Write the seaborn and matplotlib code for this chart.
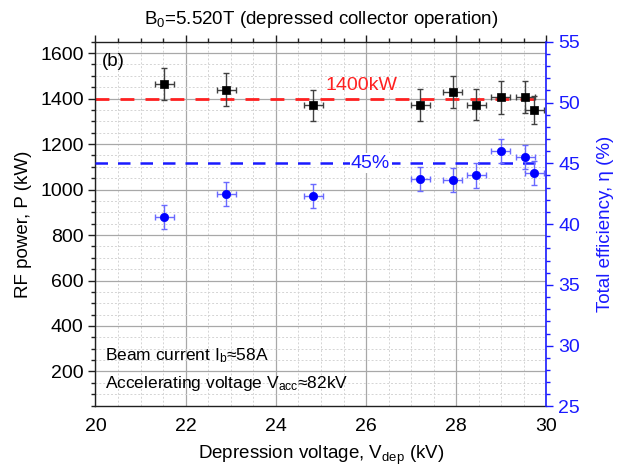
import numpy as np
import pandas as pd
import matplotlib
matplotlib.use("Agg")
import matplotlib.pyplot as plt
from matplotlib.ticker import MultipleLocator
import seaborn as sns

# Data
v_dep = [21.52, 22.90, 24.83, 27.20, 27.92, 28.44, 28.99, 29.53, 29.73]
power = [1464, 1439, 1370, 1373, 1428, 1373, 1406, 1406, 1349]
power_err = [72, 72, 68, 70, 70, 68, 72, 70, 62]
eff = [40.6, 42.5, 42.3, 43.7, 43.6, 44.0, 46.0, 45.5, 44.2]
eff_err = [1.0, 1.0, 1.0, 1.0, 1.0, 1.0, 1.0, 1.0, 1.0]
v_err = [0.21, 0.21, 0.21, 0.21, 0.21, 0.21, 0.21, 0.21, 0.21]
power_ref = 1400
eff_ref = 45

df = pd.DataFrame({"V": v_dep, "P": power, "eta": eff})

sns.set_style("white")
plt.rcParams['font.family'] = ['Liberation Sans', 'DejaVu Sans']
plt.rcParams['mathtext.fontset'] = 'custom'
plt.rcParams['mathtext.rm'] = 'Liberation Sans'
plt.rcParams['mathtext.it'] = 'Liberation Sans'
plt.rcParams['text.color'] = 'black'
plt.rcParams['axes.labelcolor'] = 'black'
plt.rcParams['xtick.color'] = 'black'
plt.rcParams['ytick.color'] = 'black'

fig = plt.figure(figsize=(6.29, 4.73), dpi=100)
ax = fig.add_axes([0.1518, 0.1406, 0.7170, 0.7712])
ax2 = ax.twinx()

ax.set_xlim(20, 30)
ax.set_ylim(46, 1650)
ax2.set_ylim(25, 55)

# grid
ax.xaxis.set_major_locator(MultipleLocator(2))
ax.xaxis.set_minor_locator(MultipleLocator(0.5))
ax.yaxis.set_major_locator(MultipleLocator(200))
ax.yaxis.set_minor_locator(MultipleLocator(50))
ax2.yaxis.set_major_locator(MultipleLocator(5))
ax2.yaxis.set_minor_locator(MultipleLocator(1))
ax.grid(True, which='major', color='#a8a8a8', lw=0.9, ls='-')
ax.grid(True, which='minor', color='#d4d4d4', lw=0.7, ls=(0, (2, 2)))
ax.set_axisbelow(True)

# reference lines
ax.plot([20, 29.8], [power_ref, power_ref], color='#ff2020', ls=(0, (5, 4)), lw=2, zorder=2)
ax2.plot([20, 29.8], [eff_ref, eff_ref], color='#1a1aff', ls=(0, (5, 4)), lw=1.8, zorder=2)
ax.text(25.9, 1420, "1400kW", color='#ff2020', fontsize=14, ha='center', va='bottom', zorder=3)
ax2.text(26.1, eff_ref, "45%", color='#1a1aff', fontsize=14, ha='center', va='center', zorder=3,
         bbox=dict(facecolor='white', edgecolor='none', pad=1))

# error bars
ax.errorbar(v_dep, power, xerr=v_err, yerr=power_err, fmt='none', ecolor='#404040',
            elinewidth=1, capsize=2.5, capthick=1, zorder=4)
ax2.errorbar(v_dep, eff, xerr=v_err, yerr=eff_err, fmt='none', ecolor='#6a6aff',
             elinewidth=1, capsize=2.5, capthick=1, zorder=4)

sns.scatterplot(data=df, x="V", y="P", ax=ax, marker='s', color='black', s=36,
                edgecolor='black', linewidth=0.5, zorder=5, legend=False)
sns.scatterplot(data=df, x="V", y="eta", ax=ax2, marker='o', color='#0000ff', s=36,
                edgecolor='#0000ff', linewidth=0.5, zorder=5, legend=False)

# text labels
ax.text(20.15, 1565, "(b)", fontsize=13.5, ha='left', va='center')
ax.text(20.2, 268, r"Beam current I$_\mathrm{b}$≈58A", fontsize=12.5, ha='left', va='center')
ax.text(20.2, 145, r"Accelerating voltage V$_\mathrm{acc}$≈82kV", fontsize=12.5, ha='left', va='center')

ax.set_title(r"B$_\mathrm{0}$=5.520T (depressed collector operation)", fontsize=13.5, pad=13)
ax.set_xlabel(r"Depression voltage, V$_\mathrm{dep}$ (kV)", fontsize=13.5, labelpad=6)
ax.set_ylabel("RF power, P (kW)", fontsize=13.5, labelpad=6)
ax2.set_ylabel("Total efficiency, η (%)", fontsize=13.5, color='#1a1aff', labelpad=12)
ax2.set_xlabel("")

ax.set_yticks([200, 400, 600, 800, 1000, 1200, 1400, 1600])
ax.tick_params(axis='both', which='major', labelsize=14, direction='out', length=5, width=1, color='#202020')
ax.tick_params(axis='both', which='minor', direction='out', length=3, width=1, color='#202020')
ax.tick_params(axis='x', which='both', top=True)
ax2.tick_params(axis='y', which='major', labelsize=14, colors='#1a1aff', direction='out', length=5, width=1)
ax2.tick_params(axis='y', which='minor', colors='#1a1aff', direction='out', length=3, width=1)
ax2.set_yticks([25, 30, 35, 40, 45, 50, 55])

for s in ['left', 'bottom', 'top']:
    ax.spines[s].set_color('#202020')
    ax.spines[s].set_linewidth(1)
ax2.spines['right'].set_color('#1a1aff')
ax2.spines['right'].set_linewidth(1.2)
ax2.spines['left'].set_visible(False)
ax2.spines['top'].set_visible(False)
ax2.spines['bottom'].set_visible(False)
ax.spines['right'].set_visible(False)

fig.savefig("out.png", dpi=100)
